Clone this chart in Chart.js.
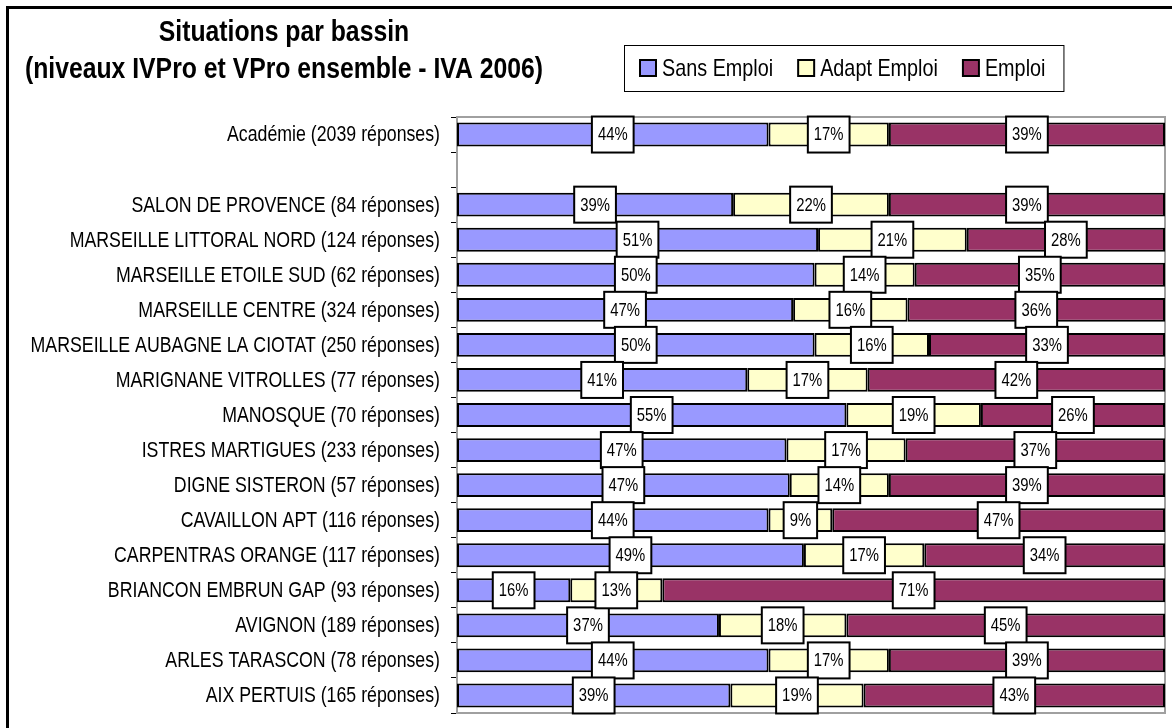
<!DOCTYPE html>
<html>
<head>
<meta charset="utf-8">
<script src="https://cdn.jsdelivr.net/npm/chart.js@4/dist/chart.umd.min.js"></script>
<style>
  html, body { margin: 0; padding: 0; background: #fff; overflow: hidden; }
  #wrap { position: relative; width: 1172px; height: 728px; }
  #frame { position: absolute; left: 6px; top: 6px; width: 1200px; height: 760px; border: 3px solid #000; }
  canvas { position: absolute; left: 0; top: 0; }
</style>
</head>
<body>
<div id="wrap">
  <div id="frame"></div>
  <canvas id="myChart" width="1172" height="728"></canvas>
</div>
<script>
// Category labels (empty one = the gap under Académie)
var bassins = [
  "Académie (2039 réponses)",
  "",
  "SALON DE PROVENCE (84 réponses)",
  "MARSEILLE LITTORAL NORD (124 réponses)",
  "MARSEILLE ETOILE SUD (62 réponses)",
  "MARSEILLE CENTRE (324 réponses)",
  "MARSEILLE AUBAGNE LA CIOTAT (250 réponses)",
  "MARIGNANE VITROLLES (77 réponses)",
  "MANOSQUE (70 réponses)",
  "ISTRES MARTIGUES (233 réponses)",
  "DIGNE SISTERON (57 réponses)",
  "CAVAILLON APT (116 réponses)",
  "CARPENTRAS ORANGE (117 réponses)",
  "BRIANCON EMBRUN GAP (93 réponses)",
  "AVIGNON (189 réponses)",
  "ARLES TARASCON (78 réponses)",
  "AIX PERTUIS (165 réponses)"
];
// Percentages as printed on the bars
var sansEmploi  = [44, null, 39, 51, 50, 47, 50, 41, 55, 47, 47, 44, 49, 16, 37, 44, 39];
var adaptEmploi = [17, null, 22, 21, 14, 16, 16, 17, 19, 17, 14,  9, 17, 13, 18, 17, 19];
var emploi      = [39, null, 39, 28, 35, 36, 33, 42, 26, 37, 39, 47, 34, 71, 45, 39, 43];

var FONT = '"Liberation Sans", Arial, sans-serif';
var SQUEEZE = 0.825; // the original uses a narrow face

// 100% stacked: each row is scaled to its own total
function share(arr) {
  return arr.map(function (v, i) {
    if (v === null) return null;
    var tot = sansEmploi[i] + adaptEmploi[i] + emploi[i];
    return v / tot * 100;
  });
}

var raw = [sansEmploi, adaptEmploi, emploi];

// text drawn a bit narrower than the regular face
function narrowText(c, txt, x, y) {
  c.save();
  c.translate(x, y);
  c.scale(SQUEEZE, 1);
  c.fillText(txt, 0, 0);
  c.restore();
}
function narrowWidth(c, txt) {
  return c.measureText(txt).width * SQUEEZE;
}

var plotFrame = {
  id: 'plotFrame',
  beforeDatasetsDraw: function (chart) {
    var a = chart.chartArea, c = chart.ctx;
    c.save();
    c.strokeStyle = '#a0a0a0';
    c.lineWidth = 2;
    c.strokeRect(a.left, a.top, a.right - a.left, a.bottom - a.top);
    c.restore();
  }
};

var categoryLabels = {
  id: 'categoryLabels',
  afterDraw: function (chart) {
    var c = chart.ctx, ys = chart.scales.y;
    c.save();
    c.font = '21.5px ' + FONT;
    c.fillStyle = '#000';
    c.textAlign = 'right';
    c.textBaseline = 'middle';
    chart.data.labels.forEach(function (lab, i) {
      if (!lab) return;
      narrowText(c, lab, ys.right - 17, ys.getPixelForTick(i) + 1);
    });
    c.restore();
  }
};

var valueBoxes = {
  id: 'valueBoxes',
  afterDatasetsDraw: function (chart) {
    var c = chart.ctx;
    c.save();
    c.font = '18px ' + FONT;
    c.textAlign = 'center';
    c.textBaseline = 'middle';
    chart.data.datasets.forEach(function (ds, di) {
      chart.getDatasetMeta(di).data.forEach(function (el, i) {
        var v = raw[di][i];
        if (v === null || v === undefined) return;
        var x = (el.x + el.base) / 2, y = el.y;
        var txt = v + '%';
        var w = narrowWidth(c, txt) + 12, h = 36;
        c.fillStyle = '#fff';
        c.fillRect(x - w / 2, y - h / 2, w, h);
        c.strokeStyle = '#000';
        c.lineWidth = 2;
        c.strokeRect(x - w / 2, y - h / 2, w, h);
        c.fillStyle = '#000';
        narrowText(c, txt, x, y + 1);
      });
    });
    c.restore();
  }
};

var titleLegend = {
  id: 'titleLegend',
  afterDraw: function (chart) {
    var c = chart.ctx;
    c.save();
    // title
    c.fillStyle = '#000';
    c.font = 'bold 30px ' + FONT;
    c.textAlign = 'center';
    c.textBaseline = 'alphabetic';
    narrowText(c, 'Situations par bassin', 284, 41);
    narrowText(c, '(niveaux IVPro et VPro ensemble - IVA 2006)', 284, 78);
    // legend
    c.font = '24px ' + FONT;
    c.textAlign = 'left';
    c.textBaseline = 'middle';
    var x = 640, y = 68, items = [];
    chart.data.datasets.forEach(function (ds) {
      var tw = narrowWidth(c, ds.label);
      items.push({ x: x, label: ds.label, color: ds.backgroundColor });
      x += 16 + 6 + tw + 25;
    });
    var boxRight = x - 25 + 18;
    c.strokeStyle = '#000';
    c.lineWidth = 1;
    c.strokeRect(624.5, 45.5, boxRight - 624, 46);
    items.forEach(function (it) {
      c.fillStyle = it.color;
      c.fillRect(it.x, y - 8, 16, 16);
      c.lineWidth = 2;
      c.strokeRect(it.x, y - 8, 16, 16);
      c.fillStyle = '#000';
      narrowText(c, it.label, it.x + 22, y + 1);
    });
    c.restore();
  }
};

var ctx = document.getElementById("myChart");

var myChart = new Chart(ctx, {
  type: 'bar',
  data: {
    labels: bassins,
    datasets: [
      { label: "Sans Emploi", data: share(sansEmploi), backgroundColor: "#9999ff" },
      { label: "Adapt Emploi", data: share(adaptEmploi), backgroundColor: "#ffffcc" },
      { label: "Emploi", data: share(emploi), backgroundColor: "#993366" }
    ]
  },
  options: {
    indexAxis: 'y',
    responsive: false,
    animation: false,
    layout: { padding: { top: 117, bottom: 15, right: 7, left: 0 } },
    datasets: {
      bar: {
        borderColor: '#000',
        borderWidth: 2,
        borderSkipped: false,
        barPercentage: 0.68,
        categoryPercentage: 1
      }
    },
    plugins: {
      legend: { display: false },
      title: { display: false },
      tooltip: { enabled: false }
    },
    scales: {
      x: { stacked: true, min: 0, max: 100, display: false },
      y: {
        stacked: true,
        afterFit: function (scale) { scale.width = 457; },
        border: { display: true, color: '#808080', width: 2 },
        grid: { offset: true, drawOnChartArea: false, tickLength: 6, color: '#000', tickWidth: 1 },
        ticks: { display: false, autoSkip: false }
      }
    }
  },
  plugins: [plotFrame, valueBoxes, categoryLabels, titleLegend]
});
</script>
</body>
</html>
